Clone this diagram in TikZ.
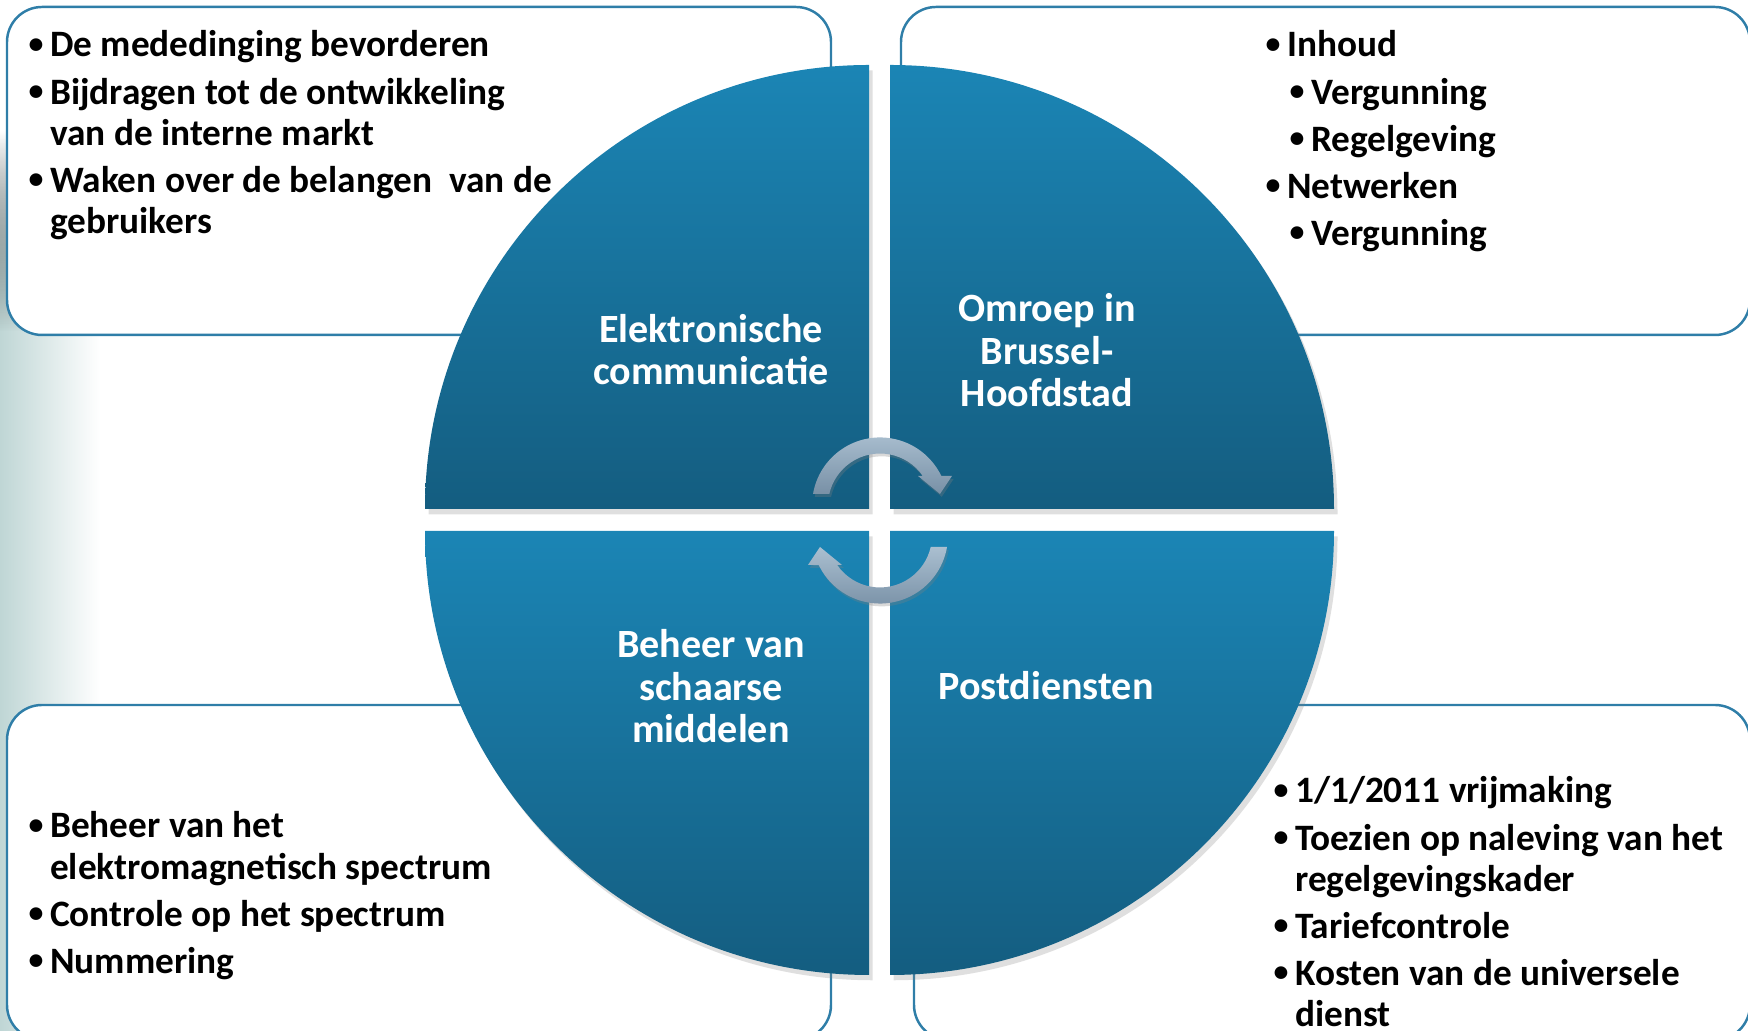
\documentclass[tikz,border=0pt]{standalone}
\usepackage{fontspec}
\setmainfont{Carlito}
\usetikzlibrary{shadows,fadings}

\definecolor{kwadtop}{HTML}{1B85B5}
\definecolor{kwadbot}{HTML}{145D80}
\definecolor{rand}{HTML}{2F7EA8}
\definecolor{pijltop}{HTML}{AABFD0}
\definecolor{pijlbot}{HTML}{7890A6}
\definecolor{achter}{HTML}{BFD6D5}

\newcommand{\bol}{\raisebox{0.2ex}{\fontsize{8.5pt}{8.5pt}\selectfont\textbullet}}
\newcommand{\lijstbegin}{\setlength{\parskip}{0.06cm}\spaceskip=0pt\xspaceskip=0pt\relax}
\newcommand{\pnt}[1]{\hangindent=0.215cm\hangafter=1\noindent\makebox[0.215cm][l]{\bol}#1\par}
\newcommand{\subpnt}[1]{\noindent\hspace*{0.24cm}\makebox[0.215cm][l]{\bol}#1\par}

\begin{document}
\begin{tikzpicture}[x=0.01cm,y=0.01cm,
  kwadrant/.style={top color=kwadtop,bottom color=kwadbot,
    drop shadow={shadow xshift=1pt,shadow yshift=-1.5pt,opacity=.25}},
  kader/.style={draw=rand,line width=0.7pt,fill=white,rounded corners=0.35cm},
  lijst/.style={anchor=base west,inner sep=0pt,text width=#1,align=left,
    font=\fontsize{10.6pt}{11.7pt}\selectfont\bfseries},
  kwadtekst/.style={text=white,align=center,anchor=base,inner sep=0pt,
    font=\fontsize{11.4pt}{12.2pt}\selectfont\bfseries},
  pijl/.style={top color=pijltop,bottom color=pijlbot,
    drop shadow={shadow xshift=0.5pt,shadow yshift=-0.8pt,opacity=.3}}]
\useasboundingbox (0,0) rectangle (1748,1031);
\clip (0,0) rectangle (1748,1031);

% achtergrond
\fill[left color=achter,right color=white] (0,0) rectangle (100,700);
\fill[left color=achter,right color=white,path fading=north] (0,700) rectangle (100,900);

% kaders
\path[kader] (7,696) rectangle (831,1024);
\path[kader] (901,696) rectangle (1750,1024);
\path[kader] (7,-9) rectangle (831,326);
\path[kader] (914,-9) rectangle (1750,326);

% kwadranten
\foreach \cx/\cy/\a in {869/522/90, 890/522/0, 869/500/180, 890/500/270} {
  \path[kwadrant] (\cx,\cy) -- ++(\a:444) arc[start angle=\a,end angle=\a+90,radius=444] -- cycle;
}

% pijlen
\path[pijl] (813,537) arc[start angle=170.3,end angle=25.7,radius=68]
  -- (952,555) -- (940,537) -- (918,555) -- (922.8,555)
  arc[start angle=34.6,end angle=167.2,radius=52] -- cycle;
\path[pijl] (947,484) arc[start angle=-9.7,end angle=-154.3,radius=68]
  -- (808,466) -- (820,484) -- (842,466) -- (837.2,466)
  arc[start angle=-145.4,end angle=-12.8,radius=52] -- cycle;

% kwadranttekst (base = laatste regel)
\node[kwadtekst] (elek) at (711,646) {Elektronische\\communicatie};
\node[kwadtekst] (omroep) at (1047,624) {Omroep in\\Brussel-\\Hoofdstad};
\node[kwadtekst] (beheer) at (711,288) {Beheer van\\schaarse\\middelen};
\node[kwadtekst] (post) at (1046,331) {Postdiensten};

% lijsten
\node[lijst=7cm] (lijstEC) at (28,974) {\lijstbegin
  \pnt{De mededinging bevorderen}
  \pnt{Bijdragen tot de ontwikkeling\newline van de interne markt}
  \pnt{Waken over de belangen~ van de\newline gebruikers}};
\node[lijst=4cm] (lijstOB) at (1265,974) {\lijstbegin
  \pnt{Inhoud}
  \subpnt{Vergunning}
  \subpnt{Regelgeving}
  \pnt{Netwerken}
  \subpnt{Vergunning}};
\node[lijst=7cm] (lijstBS) at (28,193) {\lijstbegin
  \pnt{Beheer van het\newline elektromagnetisch spectrum}
  \pnt{Controle op het spectrum}
  \pnt{Nummering}};
\node[lijst=4.7cm] (lijstPD) at (1273,228) {\lijstbegin
  \pnt{1/1/2011 vrijmaking}
  \pnt{Toezien op naleving van het\newline regelgevingskader}
  \pnt{Tariefcontrole}
  \pnt{Kosten van de universele\newline dienst}};

\end{tikzpicture}
\end{document}
